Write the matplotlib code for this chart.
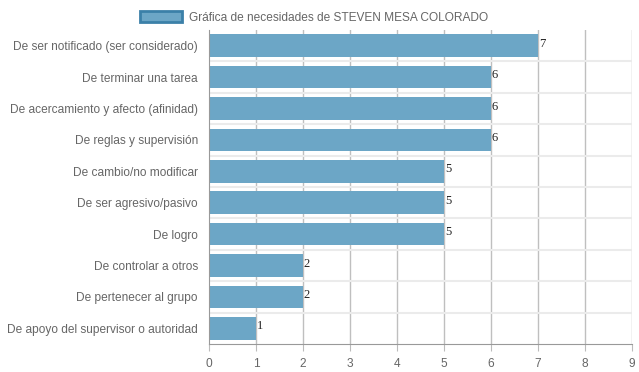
import matplotlib.pyplot as plt
from matplotlib.patches import Patch

plt.rcParams['font.family'] = ['Liberation Sans', 'DejaVu Sans']

categories = [
    'De ser notificado (ser considerado)',
    'De terminar una tarea',
    'De acercamiento y afecto (afinidad)',
    'De reglas y supervisión',
    'De cambio/no modificar',
    'De ser agresivo/pasivo',
    'De logro',
    'De controlar a otros',
    'De pertenecer al grupo',
    'De apoyo del supervisor o autoridad',
]
values = [7, 6, 6, 6, 5, 5, 5, 2, 2, 1]
legend_label = 'Gráfica de necesidades de STEVEN MESA COLORADO'

bar_color = '#6ca6c6'
edge_color = '#3b80a8'

fig = plt.figure(figsize=(6.39, 3.72), dpi=100)
ax = fig.add_axes([0.327, 0.0753, 0.662, 0.844])

n = len(categories)
pos = list(range(n))
ax.barh(pos, values, height=0.72, color=bar_color, zorder=2)
ax.set_ylim(n - 0.5, -0.5)
ax.set_xlim(0, 9)

for p, v in zip(pos, values):
    ax.text(v + 0.02, p - 0.06, str(v), family='Liberation Serif', fontsize=9,
            color='#222222', va='center', ha='left', zorder=3)

ax.set_yticks(pos)
ax.set_yticklabels(categories)
ax.set_xticks(range(10))
ax.tick_params(axis='both', colors='#666666', labelsize=8.6, length=0)
ax.tick_params(axis='y', pad=8)
ax.tick_params(axis='x', pad=5, length=5, color='#bbbbbb', direction='out')

# vertical grid
for x in range(1, 10):
    ax.axvline(x, color='#bfbfbf', lw=1, zorder=1)
# horizontal grid between categories
for b in range(n - 1):
    ax.axhline(b + 0.5, color='#ebebeb', lw=1.5, zorder=1)

for s in ['top', 'right']:
    ax.spines[s].set_visible(False)
ax.spines['left'].set_color('#999999')
ax.spines['bottom'].set_color('#999999')

handle = Patch(facecolor=bar_color, edgecolor=edge_color, linewidth=2)
fig.legend([handle], [legend_label], loc='upper center', bbox_to_anchor=(0.492, 1.0),
           frameon=False, fontsize=8.6, handlelength=3.5, handleheight=1.1,
           handletextpad=0.6, labelcolor='#666666')

fig.savefig('out.png', dpi=100)
